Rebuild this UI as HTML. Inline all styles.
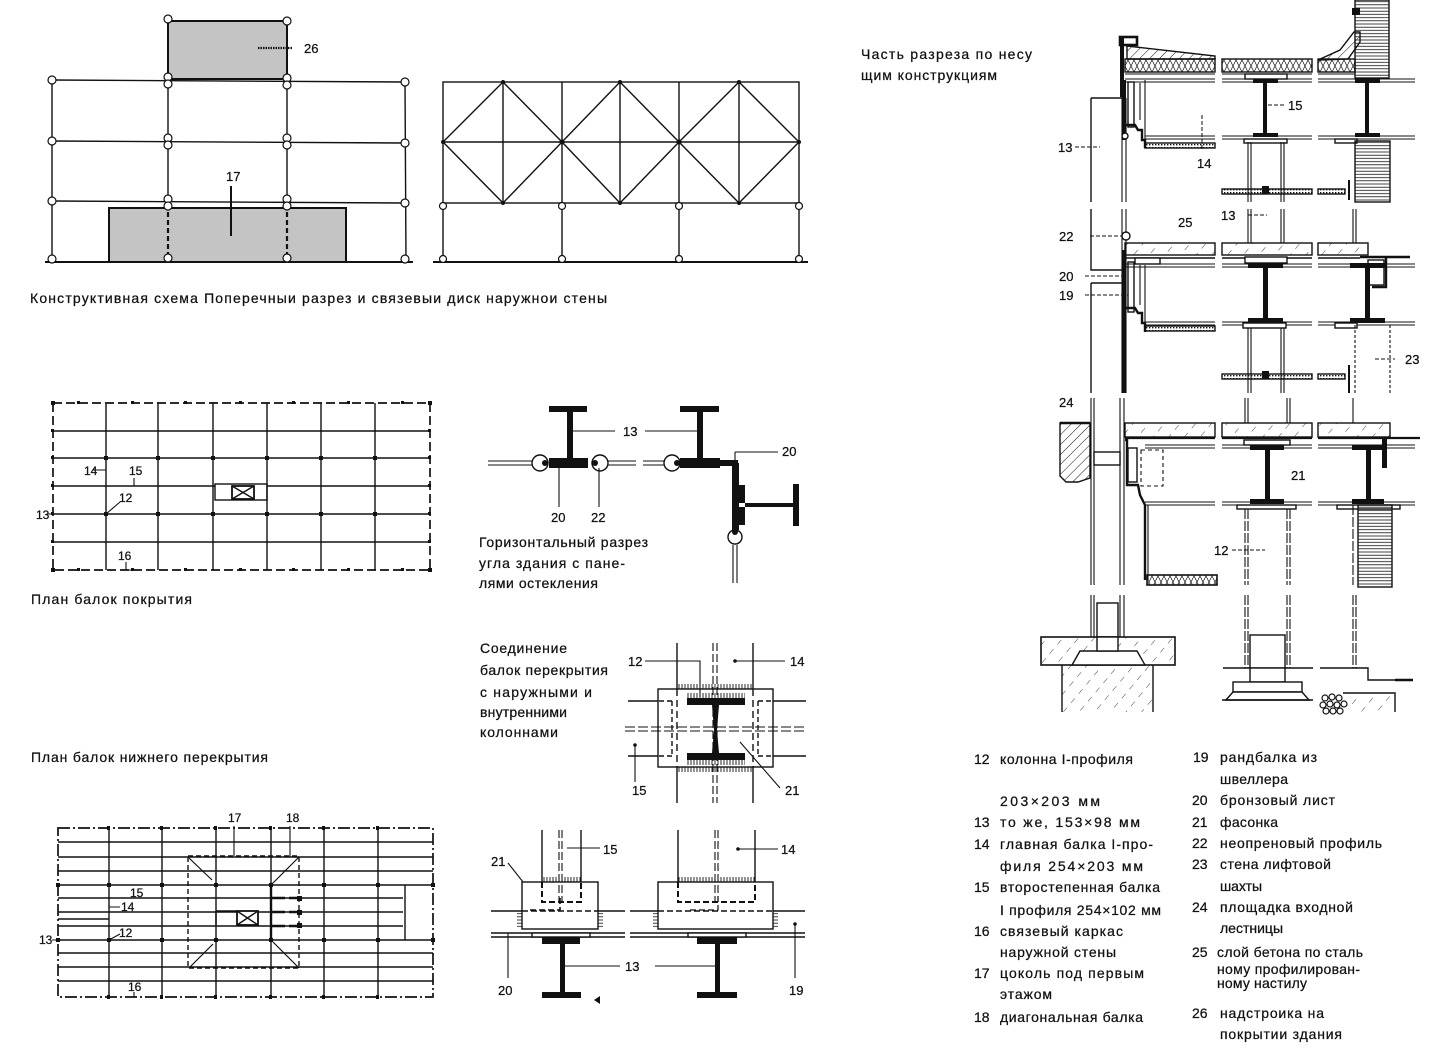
<!DOCTYPE html>
<html><head><meta charset="utf-8"><style>
html,body{margin:0;padding:0;background:#fff;}
svg{display:block;}
text{font-family:"Liberation Sans","DejaVu Sans",sans-serif;fill:#111;stroke:#111;stroke-width:0.25;}
</style></head><body>
<svg width="1437" height="1049" viewBox="0 0 1437 1049" xmlns="http://www.w3.org/2000/svg">
<defs>
<pattern id="hd" width="7" height="7" patternUnits="userSpaceOnUse" patternTransform="rotate(45)"><line x1="0" y1="0" x2="0" y2="7" stroke="#111" stroke-width="1"/></pattern>
<pattern id="hs" width="12" height="12" patternUnits="userSpaceOnUse" patternTransform="rotate(40)"><line x1="0" y1="0" x2="0" y2="6" stroke="#111" stroke-width="0.8"/></pattern>
<pattern id="hh" width="5" height="3.2" patternUnits="userSpaceOnUse"><line x1="0" y1="1.6" x2="5" y2="1.6" stroke="#111" stroke-width="0.8"/></pattern>
<pattern id="ins" width="6" height="12" patternUnits="userSpaceOnUse"><path d="M0 0 L6 12 M6 0 L0 12" stroke="#111" stroke-width="0.7"/></pattern>
<pattern id="dt" width="3" height="3" patternUnits="userSpaceOnUse"><rect width="1.4" height="1.4" fill="#111"/></pattern>
<pattern id="tk" width="3" height="5" patternUnits="userSpaceOnUse"><line x1="1" y1="0" x2="1" y2="5" stroke="#111" stroke-width="0.9"/></pattern>
</defs>

<g stroke="#111" stroke-width="1.4" fill="none">

<!-- ===== Scheme 1 ===== -->
<rect x="168" y="21" width="119" height="58" fill="#c4c4c4" stroke-width="2"/>
<rect x="109" y="208" width="237" height="54" fill="#c4c4c4" stroke-width="2"/>
<line x1="52" y1="80" x2="52" y2="262"/>
<line x1="405" y1="82" x2="406" y2="262"/>
<line x1="168" y1="79" x2="168" y2="208"/>
<line x1="287" y1="79" x2="287" y2="208"/>
<line x1="52" y1="80" x2="405" y2="82"/>
<line x1="52" y1="141" x2="405" y2="143"/>
<line x1="52" y1="201" x2="405" y2="203"/>
<line x1="45" y1="262" x2="413" y2="262" stroke-width="2"/>
<line x1="168" y1="212" x2="168" y2="256" stroke-width="2.2" stroke-dasharray="5 3"/>
<line x1="287" y1="212" x2="287" y2="256" stroke-width="2.2" stroke-dasharray="5 3"/>
<g fill="#fff" stroke-width="1.2">
<circle cx="52" cy="80" r="4"/><circle cx="52" cy="141" r="4"/><circle cx="52" cy="201" r="4"/><circle cx="52" cy="259" r="4"/>
<circle cx="405" cy="82" r="4"/><circle cx="405" cy="143" r="4"/><circle cx="405" cy="203" r="4"/><circle cx="405" cy="259" r="4"/>
<circle cx="168" cy="19" r="4"/><circle cx="287" cy="21" r="4"/>
<circle cx="168" cy="77" r="4"/><circle cx="168" cy="84" r="4"/><circle cx="168" cy="138" r="4"/><circle cx="168" cy="145" r="4"/><circle cx="168" cy="199" r="4"/><circle cx="168" cy="206" r="4"/><circle cx="168" cy="258" r="4"/>
<circle cx="287" cy="78" r="4"/><circle cx="287" cy="85" r="4"/><circle cx="287" cy="138" r="4"/><circle cx="287" cy="145" r="4"/><circle cx="287" cy="199" r="4"/><circle cx="287" cy="206" r="4"/><circle cx="287" cy="258" r="4"/>
</g>
<line x1="258" y1="48" x2="292" y2="48" stroke-width="2.2" stroke-dasharray="1.5 1"/>
<line x1="231" y1="186" x2="231" y2="236" stroke-width="2"/>

<!-- ===== Scheme 2 ===== -->
<rect x="443" y="82" width="356" height="121"/>
<line x1="443" y1="142" x2="799" y2="142"/>
<path d="M503 82V203 M562 82V203 M620 82V203 M679 82V203 M739 82V203"/>
<path d="M443 142 L503 82 L562 142 L503 203 Z M562 142 L620 82 L679 142 L620 203 Z M679 142 L739 82 L799 142 L739 203 Z"/>
<path d="M443 203V262 M562 203V262 M679 203V262 M799 203V262"/>
<line x1="433" y1="262" x2="808" y2="262" stroke-width="2"/>
<g fill="#111" stroke="none">
<circle cx="503" cy="82" r="2"/><circle cx="620" cy="82" r="2"/><circle cx="739" cy="82" r="2"/>
<circle cx="443" cy="142" r="2"/><circle cx="562" cy="142" r="2.5"/><circle cx="679" cy="142" r="2.5"/><circle cx="799" cy="142" r="2"/>
<circle cx="503" cy="203" r="2"/><circle cx="620" cy="203" r="2"/><circle cx="739" cy="203" r="2"/>
</g>
<g fill="#fff" stroke-width="1.2">
<circle cx="443" cy="206" r="3.5"/><circle cx="562" cy="206" r="3.5"/><circle cx="679" cy="206" r="3.5"/><circle cx="799" cy="206" r="3.5"/>
<circle cx="443" cy="259" r="3.5"/><circle cx="562" cy="259" r="3.5"/><circle cx="679" cy="259" r="3.5"/><circle cx="799" cy="259" r="3.5"/>
</g>

<!-- ===== Plan 1 (roof beams) ===== -->
<rect x="53" y="403" width="377" height="167" stroke-width="1.7" stroke-dasharray="9 4"/>
<path d="M106 403V570 M158 403V570 M213 403V570 M267 403V570 M321 403V570 M375 403V570"/>
<path d="M53 431H430 M53 458H430 M53 486H215 M267 486H430 M53 514H430 M53 542H430"/>
<rect x="215" y="484" width="52" height="16"/>
<rect x="232" y="486" width="22" height="13" stroke-width="1.8"/>
<path d="M232 486L254 499 M254 486L232 499"/>
<path d="M93 470H106 M134 478V486 M106 514L120 502 M47 514H53 M126 562V570H133" stroke-width="1.1"/>
<g fill="#111" stroke="none">
<rect x="104" y="456" width="4" height="4"/><rect x="156" y="456" width="4" height="4"/><rect x="211" y="456" width="4" height="4"/><rect x="265" y="456" width="4" height="4"/><rect x="319" y="456" width="4" height="4"/><rect x="373" y="456" width="4" height="4"/>
<rect x="104" y="512" width="4" height="4"/><rect x="156" y="512" width="4" height="4"/><rect x="211" y="512" width="4" height="4"/><rect x="265" y="512" width="4" height="4"/><rect x="319" y="512" width="4" height="4"/><rect x="373" y="512" width="4" height="4"/>
<rect x="51" y="401" width="4" height="4"/><rect x="428" y="401" width="4" height="4"/><rect x="51" y="568" width="4" height="4"/><rect x="428" y="568" width="4" height="4"/>
<rect x="51" y="429" width="3" height="3"/><rect x="51" y="456" width="3" height="3"/><rect x="51" y="484" width="3" height="3"/><rect x="51" y="512" width="3" height="3"/><rect x="51" y="540" width="3" height="3"/>
<rect x="428" y="429" width="3" height="3"/><rect x="428" y="456" width="3" height="3"/><rect x="428" y="484" width="3" height="3"/><rect x="428" y="512" width="3" height="3"/><rect x="428" y="540" width="3" height="3"/>
<rect x="77" y="401" width="3" height="3"/><rect x="131" y="401" width="3" height="3"/><rect x="184" y="401" width="3" height="3"/><rect x="239" y="401" width="3" height="3"/><rect x="292" y="401" width="3" height="3"/><rect x="347" y="401" width="3" height="3"/><rect x="401" y="401" width="3" height="3"/>
<rect x="77" y="568" width="3" height="3"/><rect x="131" y="568" width="3" height="3"/><rect x="184" y="568" width="3" height="3"/><rect x="239" y="568" width="3" height="3"/><rect x="292" y="568" width="3" height="3"/><rect x="347" y="568" width="3" height="3"/><rect x="401" y="568" width="3" height="3"/>
</g>

<!-- ===== Plan 2 (lower floor beams) ===== -->
<rect x="58" y="828" width="375" height="169" stroke-width="1.7" stroke-dasharray="12 3 2 3"/>
<path d="M109 828V997 M162 828V997 M216 828V997 M271 828V997 M324 828V997 M378 828V997"/>
<path d="M58 842H433 M58 857H433 M58 871H433 M58 885H433 M58 898H403 M58 912H403 M58 926H403 M58 940H433 M58 953H433 M58 967H433 M58 981H433 M405 885V940"/>
<path d="M58 919H109" />
<rect x="188" y="856" width="111" height="112" stroke-width="1.4" stroke-dasharray="5 3"/>
<path d="M189 858L212 880 M299 857L272 884 M189 968L213 944 M299 968L273 942" stroke-width="1.2"/>
<path d="M271 885V940" stroke-width="2.4"/>
<path d="M271 898H300 M271 912H300 M271 926H300" stroke-width="2.6" stroke-dasharray="14 4"/>
<rect x="237" y="911" width="21" height="14" fill="#fff" stroke-width="1.8"/>
<path d="M237 911L258 925 M258 911L237 925"/>
<path d="M216 911H237 M216 911V925"/>
<path d="M234 826V856 M290 826V857 M109 907H120 M109 940L120 934 M52 940H58 M134 992V997" stroke-width="1.1"/>
<g fill="#111" stroke="none">
<rect x="107" y="883" width="4" height="4"/><rect x="160" y="883" width="4" height="4"/><rect x="214" y="883" width="4" height="4"/><rect x="269" y="883" width="4" height="4"/><rect x="322" y="883" width="4" height="4"/><rect x="376" y="883" width="4" height="4"/>
<rect x="107" y="938" width="4" height="4"/><rect x="160" y="938" width="4" height="4"/><rect x="214" y="938" width="4" height="4"/><rect x="269" y="938" width="4" height="4"/><rect x="322" y="938" width="4" height="4"/><rect x="376" y="938" width="4" height="4"/>
<rect x="56" y="883" width="4" height="4"/><rect x="431" y="883" width="4" height="4"/><rect x="56" y="938" width="4" height="4"/><rect x="431" y="938" width="4" height="4"/>
<rect x="107" y="826" width="3" height="4"/><rect x="160" y="826" width="3" height="4"/><rect x="214" y="826" width="3" height="4"/><rect x="269" y="826" width="3" height="4"/><rect x="322" y="826" width="3" height="4"/><rect x="376" y="826" width="3" height="4"/>
<rect x="107" y="995" width="3" height="4"/><rect x="160" y="995" width="3" height="4"/><rect x="214" y="995" width="3" height="4"/><rect x="269" y="995" width="3" height="4"/><rect x="322" y="995" width="3" height="4"/><rect x="376" y="995" width="3" height="4"/>
<rect x="297" y="896" width="5" height="5"/><rect x="297" y="910" width="5" height="5"/><rect x="297" y="923" width="5" height="5"/>
</g>

<!-- ===== Horizontal section of corner ===== -->
<g fill="#111" stroke="none">
<rect x="549" y="406" width="38" height="6"/>
<rect x="567" y="411" width="6" height="48"/>
<rect x="549" y="458" width="39" height="10"/>
<rect x="680" y="406" width="39" height="6"/>
<rect x="697" y="411" width="6" height="48"/>
<rect x="680" y="458" width="40" height="10"/>
<rect x="718" y="460" width="20" height="6"/>
<rect x="732" y="463" width="7" height="67"/>
<rect x="735" y="485" width="10" height="18"/>
<rect x="735" y="507" width="10" height="18"/>
<rect x="745" y="503" width="50" height="4"/>
<rect x="793" y="484" width="6" height="42"/>
</g>
<path d="M488 461H533 M488 465H533 M608 461H636 M608 465H636 M643 461H664 M643 465H664 M733 545V583 M737 545V583" stroke-width="1.1"/>
<g fill="#fff" stroke-width="1.4">
<circle cx="540" cy="463" r="8"/><circle cx="600" cy="463" r="8"/><circle cx="672" cy="463" r="8"/><circle cx="735" cy="537" r="7"/>
</g>
<g fill="#111" stroke="none"><circle cx="545" cy="463" r="3"/><circle cx="595" cy="463" r="3"/><circle cx="677" cy="463" r="3"/><circle cx="735" cy="532" r="3"/></g>
<path d="M573 431H615 M645 431H700 M735 452H778 M735 452V460 M559 468V507 M599 468V507" stroke-width="1.1"/>

<!-- ===== Connection detail ===== -->
<rect x="658" y="689" width="115" height="78"/>
<path d="M677 643V689 M677 767V803 M753 643V689 M753 767V803"/>
<path d="M677 689V767 M753 689V767" stroke-dasharray="7 4"/>
<path d="M713 643V803 M717 643V803" stroke-width="1.1" stroke-dasharray="8 3"/>
<path d="M625 727H806 M625 731H806" stroke-width="1.1" stroke-dasharray="10 3"/>
<path d="M628 701H658 M628 756H658 M773 701H806 M773 756H806"/>
<path d="M672 701H658 M672 701V756 M672 756H658 M758 701H773 M758 701V756 M758 756H773" stroke-dasharray="5 3"/>
<g fill="#111" stroke="none">
<rect x="687" y="698" width="58" height="7"/>
<rect x="687" y="753" width="58" height="7"/>
<polygon points="712,705 719,705 717,730 719,753 712,753 714,730"/>
</g>
<rect x="687" y="693" width="58" height="5" fill="url(#tk)" stroke="none"/>
<rect x="687" y="760" width="58" height="5" fill="url(#tk)" stroke="none"/>
<rect x="677" y="684" width="76" height="5" fill="url(#tk)" stroke="none"/>
<rect x="677" y="767" width="76" height="5" fill="url(#tk)" stroke="none"/>
<path d="M645 661H700V697 M735 661H785 M635 745V782 M740 742L780 788" stroke-width="1.1"/>
<circle cx="735" cy="661" r="1.8" fill="#111" stroke="none"/>
<circle cx="635" cy="745" r="1.8" fill="#111" stroke="none"/>

<!-- ===== Bottom details ===== -->
<rect x="522" y="882" width="76" height="47"/>
<path d="M542 830V882 M581 830V882"/>
<path d="M559 830V902 M562 830V902" stroke-width="1.1" stroke-dasharray="8 3"/>
<path d="M542 882V902H581V882" stroke-width="2" stroke-dasharray="6 3"/>
<path d="M530 910H560V895" stroke-width="1.6" stroke-dasharray="6 3"/>
<path d="M491 911H522 M598 911H625 M491 933H625 M491 937H625"/>
<path d="M522 911H598" stroke-dasharray="6 3"/>
<rect x="532" y="933" width="58" height="4" fill="#fff"/>
<g fill="#111" stroke="none">
<rect x="542" y="937" width="38" height="7"/>
<rect x="560" y="943" width="5" height="50"/>
<rect x="542" y="992" width="39" height="6"/>
<polygon points="594,1000 600,996 600,1004"/>
</g>
<rect x="542" y="877" width="39" height="5" fill="url(#tk)" stroke="none"/>
<rect x="517" y="913" width="5" height="16" fill="url(#hh)" stroke="none"/>
<rect x="598" y="913" width="5" height="16" fill="url(#hh)" stroke="none"/>
<path d="M567 848H600 M508 863L523 882 M508 933V978 M565 966H620 M655 966H715" stroke-width="1.1"/>

<rect x="658" y="882" width="115" height="47"/>
<path d="M678 830V882 M755 830V882"/>
<path d="M715 830V902 M718 830V902" stroke-width="1.1" stroke-dasharray="8 3"/>
<path d="M678 882V902H755V882" stroke-width="2" stroke-dasharray="6 3"/>
<path d="M690 910H718V895" stroke-width="1.2" stroke-dasharray="6 3"/>
<path d="M630 911H658 M773 911H805 M630 933H805 M630 937H805"/>
<path d="M658 911H773" stroke-dasharray="6 3"/>
<rect x="688" y="933" width="58" height="4" fill="#fff"/>
<g fill="#111" stroke="none">
<rect x="697" y="937" width="40" height="7"/>
<rect x="715" y="943" width="5" height="50"/>
<rect x="697" y="992" width="40" height="6"/>
</g>
<rect x="678" y="877" width="77" height="5" fill="url(#tk)" stroke="none"/>
<rect x="653" y="913" width="5" height="16" fill="url(#hh)" stroke="none"/>
<rect x="773" y="913" width="5" height="16" fill="url(#hh)" stroke="none"/>
<path d="M738 849H778 M795 924V978" stroke-width="1.1"/>
<circle cx="738" cy="849" r="1.8" fill="#111" stroke="none"/>
<circle cx="795" cy="924" r="1.8" fill="#111" stroke="none"/>

<!-- ===== Vertical section (right) ===== -->
<path d="M1091 98H1122 M1091 98V202 M1091 209V270H1122 M1091 283H1122 M1091 283V393"/>
<path d="M1122 40V202 M1126 98V202 M1122 209V393 M1126 209V393" stroke-width="1.1"/>
<path d="M1091 398V585 M1094 398V585 M1120 398V585 M1124 398V585 M1091 595V637 M1094 595V637 M1120 595V637 M1124 595V637" stroke-width="1.1"/>
<rect x="1094" y="452" width="26" height="13" fill="#fff"/>

<!-- roof -->
<rect x="1120" y="37" width="17" height="8" stroke-width="2.6"/>
<rect x="1120" y="37" width="4" height="60" fill="#111" stroke="none"/>
<polygon points="1127,46 1215,56 1215,59 1127,59" fill="url(#hd)"/>
<rect x="1125" y="59" width="90" height="13" fill="url(#ins)"/>
<rect x="1222" y="59" width="90" height="13" fill="url(#ins)"/>
<rect x="1318" y="59" width="37" height="13" fill="url(#ins)"/>
<polygon points="1318,60 1340,50 1354,32 1360,32 1360,42 1348,59" fill="url(#hd)"/>
<rect x="1355" y="0" width="34" height="78" fill="url(#hh)"/>
<rect x="1352" y="8" width="8" height="7" fill="#111" stroke="none"/>
<path d="M1125 74H1215 M1222 74H1312 M1318 74H1355 M1125 79H1215 M1222 79H1312 M1318 79H1415 M1125 82H1215 M1222 82H1312 M1318 82H1415" stroke-width="1.1"/>
<rect x="1245" y="74" width="42" height="5" fill="#fff"/>
<g fill="#111" stroke="none">
<rect x="1253" y="79" width="25" height="4"/><rect x="1263" y="83" width="4" height="50"/><rect x="1253" y="133" width="25" height="4"/>
<rect x="1355" y="79" width="25" height="4"/><rect x="1365" y="83" width="4" height="50"/><rect x="1355" y="133" width="25" height="4"/>
<rect x="1122" y="80" width="4" height="60"/>
</g>
<path d="M1145 136H1215 M1222 136H1312 M1318 136H1415 M1145 139H1215 M1222 139H1312 M1318 139H1415" stroke-width="1.1"/>
<rect x="1244" y="139" width="43" height="4" fill="#fff"/>
<rect x="1335" y="139" width="22" height="4" fill="#fff"/>
<rect x="1128" y="82" width="6" height="45"/>
<path d="M1140 83V120 M1145 80V140" stroke-width="1.1"/>
<path d="M1126 125H1135L1138 130H1142V140H1145V148" stroke-width="2.4"/>
<circle cx="1125" cy="136" r="3" fill="#fff"/>
<rect x="1145" y="143" width="70" height="5" fill="url(#dt)"/>
<path d="M1248 142V202 M1251 142V202 M1281 142V202 M1284 142V202" stroke-width="1.1"/>
<rect x="1222" y="189" width="90" height="5" fill="url(#dt)"/>
<rect x="1318" y="189" width="27" height="5" fill="url(#dt)"/>
<rect x="1262" y="186" width="7" height="8" fill="#111" stroke="none"/>
<path d="M1349 180V200" stroke-width="2"/>
<rect x="1355" y="141" width="35" height="61" fill="url(#hh)"/>

<!-- floor 2 -->
<rect x="1125" y="243" width="90" height="12" fill="url(#hs)"/>
<rect x="1222" y="243" width="90" height="12" fill="url(#hs)"/>
<rect x="1318" y="243" width="50" height="12" fill="url(#hs)"/>
<path d="M1125 258H1215 M1222 258H1312 M1318 258H1360" stroke-width="1.4"/>
<path d="M1360 257H1410" stroke-width="2.6"/>
<path d="M1125 264H1215 M1222 264H1312 M1318 264H1415 M1125 267H1215 M1222 267H1312 M1318 267H1415" stroke-width="1.1"/>
<rect x="1245" y="257" width="42" height="6" fill="#fff"/>
<rect x="1135" y="258" width="25" height="6" fill="#fff"/>
<g fill="#111" stroke="none">
<rect x="1248" y="263" width="35" height="5"/><rect x="1263" y="268" width="5" height="50"/><rect x="1248" y="318" width="35" height="5"/>
<rect x="1350" y="263" width="35" height="5"/><rect x="1365" y="268" width="5" height="50"/><rect x="1350" y="318" width="35" height="5"/>
<rect x="1122" y="250" width="4" height="143"/>
</g>
<path d="M1372 287H1386V258" stroke-width="2.4"/>
<rect x="1368" y="260" width="16" height="25"/>
<path d="M1145 322H1215 M1222 322H1312 M1318 322H1415 M1145 325H1215 M1222 325H1312 M1318 325H1415" stroke-width="1.1"/>
<rect x="1243" y="323" width="43" height="5" fill="#fff"/>
<rect x="1335" y="323" width="22" height="5" fill="#fff"/>
<rect x="1128" y="262" width="6" height="50"/>
<path d="M1140 265V305 M1145 265V325" stroke-width="1.1"/>
<path d="M1126 308H1135L1138 313H1142V323H1145V332" stroke-width="2.4"/>
<circle cx="1126" cy="236" r="4" fill="#fff"/>
<rect x="1145" y="326" width="70" height="5" fill="url(#dt)"/>
<path d="M1248 209V243 M1251 209V243 M1281 209V243 M1284 209V243 M1248 328V393 M1251 328V393 M1281 328V393 M1284 328V393" stroke-width="1.1"/>
<path d="M1353 209V243 M1356 209V243" stroke-width="1.1"/>
<rect x="1222" y="374" width="90" height="5" fill="url(#dt)"/>
<rect x="1318" y="374" width="27" height="5" fill="url(#dt)"/>
<rect x="1262" y="371" width="7" height="8" fill="#111" stroke="none"/>
<path d="M1349 365V393" stroke-width="2"/>
<path d="M1355 325V393 M1390 325V393" stroke-width="1.1" stroke-dasharray="3 2"/>

<!-- floor 1 -->
<polygon points="1060,423 1090,423 1090,478 1078,482 1066,482 1060,476" fill="url(#hd)"/>
<path d="M1060 423H1090" stroke-width="2.6"/>
<rect x="1125" y="423" width="90" height="14" fill="url(#hs)"/>
<rect x="1222" y="423" width="90" height="14" fill="url(#hs)"/>
<rect x="1318" y="423" width="72" height="14" fill="url(#hs)"/>
<path d="M1125 438H1215 M1222 438H1312 M1318 438H1420" stroke-width="2.2"/>
<path d="M1145 445H1215 M1222 445H1312 M1318 445H1415 M1145 448H1215 M1222 448H1312 M1318 448H1415" stroke-width="1.1"/>
<rect x="1244" y="440" width="46" height="5" fill="#fff"/>
<g fill="#111" stroke="none">
<rect x="1250" y="445" width="34" height="5"/><rect x="1265" y="450" width="5" height="50"/><rect x="1250" y="499" width="34" height="5"/>
<rect x="1352" y="445" width="32" height="5"/><rect x="1366" y="450" width="5" height="50"/><rect x="1352" y="499" width="32" height="5"/>
<rect x="1382" y="438" width="5" height="30"/>
</g>
<path d="M1145 502H1215 M1222 502H1312 M1318 502H1415 M1145 505H1215 M1222 505H1312 M1318 505H1415" stroke-width="1.1"/>
<rect x="1237" y="505" width="59" height="4" fill="#fff"/>
<rect x="1337" y="505" width="63" height="4" fill="#fff"/>
<rect x="1128" y="448" width="9" height="34"/>
<path d="M1125 440H1127V485H1138L1140 495L1145 505V580" stroke-width="2.4"/>
<path d="M1148 505V580" stroke-width="1.1"/>
<rect x="1141" y="450" width="22" height="36" stroke-dasharray="4 3" stroke-width="1.1"/>
<rect x="1147" y="575" width="70" height="10" fill="url(#ins)" stroke-width="1.6"/>
<path d="M1245 509V585 M1248 509V585 M1287 509V585 M1290 509V585 M1245 595V668 M1248 595V668 M1287 595V668 M1290 595V668" stroke-width="1.1" stroke-dasharray="10 2"/>
<path d="M1245 398V423 M1248 398V423 M1287 398V423 M1290 398V423 M1353 398V423" stroke-width="1.1"/>
<path d="M1353 505V585 M1353 595V668 M1356 595V668" stroke-width="1.1" stroke-dasharray="10 2"/>
<rect x="1358" y="505" width="34" height="82" fill="url(#hh)"/>

<!-- foundations -->
<rect x="1097" y="603" width="21" height="34" fill="#fff"/>
<rect x="1041" y="637" width="134" height="28" fill="url(#hs)" stroke-width="1.6"/>
<polygon points="1072,665 1080,651 1137,651 1145,665" fill="#fff"/>
<rect x="1097" y="637" width="21" height="14" fill="#fff"/>
<rect x="1062" y="665" width="91" height="47" fill="url(#hs)" stroke="none"/>
<path d="M1062 665V712 M1153 665V712" stroke-width="1.4"/>
<path d="M1223 668H1313 M1320 668H1368V680H1405" stroke-width="1.4"/>
<path d="M1395 680H1413" stroke-width="2.6"/>
<rect x="1250" y="635" width="35" height="33" fill="#fff"/>
<rect x="1250" y="668" width="35" height="14" fill="#fff"/>
<rect x="1233" y="682" width="69" height="10" fill="#fff"/>
<polygon points="1226,700 1233,692 1302,692 1309,700" fill="#fff"/>
<path d="M1222 700H1313" stroke-width="1.4"/>
<path d="M1343 693H1395V712" stroke-width="1.4"/>
<rect x="1348" y="695" width="45" height="17" fill="url(#hs)" stroke="none"/>
<g stroke-width="1.2" fill="#fff">
<circle cx="1325" cy="698" r="3"/><circle cx="1332" cy="697" r="3"/><circle cx="1339" cy="698" r="3"/><circle cx="1323" cy="705" r="3"/><circle cx="1330" cy="704" r="3"/><circle cx="1337" cy="705" r="3"/><circle cx="1344" cy="704" r="3"/><circle cx="1326" cy="711" r="3"/><circle cx="1333" cy="711" r="3"/><circle cx="1340" cy="711" r="3"/>
</g>

<path d="M1075 147H1100 M1202 115V150 M1268 105H1285 M1248 215H1267 M1090 236H1122 M1085 276H1122 M1085 295H1128 M1375 359H1395 M1232 550H1265" stroke-width="1" stroke-dasharray="4 2"/>
</g>

<!-- ===== TEXT ===== -->
<g font-size="13">
<text x="304" y="53">26</text>
<text x="226" y="181">17</text>
<text x="623" y="436">13</text>
<text x="782" y="456">20</text>
<text x="551" y="522">20</text>
<text x="591" y="522">22</text>
<text x="628" y="666">12</text>
<text x="790" y="666">14</text>
<text x="632" y="795">15</text>
<text x="785" y="795">21</text>
<text x="603" y="854">15</text>
<text x="491" y="866">21</text>
<text x="498" y="995">20</text>
<text x="625" y="971">13</text>
<text x="781" y="854">14</text>
<text x="789" y="995">19</text>

<text x="84" y="475" font-size="12">14</text>
<text x="129" y="475" font-size="12">15</text>
<text x="119" y="502" font-size="12">12</text>
<text x="36" y="519" font-size="12">13</text>
<text x="118" y="560" font-size="12">16</text>

<text x="228" y="822" font-size="12">17</text>
<text x="286" y="822" font-size="12">18</text>
<text x="130" y="897" font-size="12">15</text>
<text x="121" y="911" font-size="12">14</text>
<text x="119" y="937" font-size="12">12</text>
<text x="39" y="944" font-size="12">13</text>
<text x="128" y="991" font-size="12">16</text>

<text x="1058" y="152">13</text>
<text x="1197" y="168">14</text>
<text x="1288" y="110">15</text>
<text x="1178" y="227">25</text>
<text x="1221" y="220">13</text>
<text x="1059" y="241">22</text>
<text x="1059" y="281">20</text>
<text x="1059" y="300">19</text>
<text x="1405" y="364">23</text>
<text x="1059" y="407">24</text>
<text x="1291" y="480">21</text>
<text x="1214" y="555">12</text>
</g>

<g font-size="14">
<text x="30" y="303" textLength="577" lengthAdjust="spacing">Конструктивная схема  Поперечныи разрез и связевыи диск наружнои стены</text>
<text x="31" y="604" textLength="161" lengthAdjust="spacing">План балок покрытия</text>
<text x="31" y="762" textLength="237" lengthAdjust="spacing">План балок нижнего перекрытия</text>
<text x="479" y="547" textLength="169" lengthAdjust="spacing">Горизонтальный разрез</text>
<text x="479" y="568" textLength="146" lengthAdjust="spacing">угла здания с пане-</text>
<text x="479" y="588" textLength="119" lengthAdjust="spacing">лями остекления</text>
<text x="480" y="653" textLength="87" lengthAdjust="spacing">Соединение</text>
<text x="480" y="675" textLength="128" lengthAdjust="spacing">балок перекрытия</text>
<text x="480" y="697" textLength="112" lengthAdjust="spacing">с наружными и</text>
<text x="480" y="717" textLength="87" lengthAdjust="spacing">внутренними</text>
<text x="480" y="737" textLength="78" lengthAdjust="spacing">колоннами</text>
<text x="861" y="59" textLength="171" lengthAdjust="spacing">Часть разреза по несу</text>
<text x="861" y="80" textLength="136" lengthAdjust="spacing">щим конструкциям</text>
</g>

<g font-size="14">
<text x="974" y="764">12</text>
<text x="1000" y="764" textLength="133" lengthAdjust="spacing">колонна I-профиля</text>
<text x="1000" y="806" textLength="100" lengthAdjust="spacing">203×203 мм</text>
<text x="974" y="827">13</text>
<text x="1000" y="827" textLength="140" lengthAdjust="spacing">то же, 153×98 мм</text>
<text x="974" y="849">14</text>
<text x="1000" y="849" textLength="153" lengthAdjust="spacing">главная балка I-про-</text>
<text x="1000" y="871" textLength="143" lengthAdjust="spacing">филя 254×203 мм</text>
<text x="974" y="892">15</text>
<text x="1000" y="892" textLength="160" lengthAdjust="spacing">второстепенная балка</text>
<text x="1000" y="915" textLength="161" lengthAdjust="spacing">I профиля 254×102 мм</text>
<text x="974" y="936">16</text>
<text x="1000" y="936" textLength="123" lengthAdjust="spacing">связевый каркас</text>
<text x="1000" y="957" textLength="116" lengthAdjust="spacing">наружной стены</text>
<text x="974" y="978">17</text>
<text x="1000" y="978" textLength="144" lengthAdjust="spacing">цоколь под первым</text>
<text x="1000" y="999" textLength="52" lengthAdjust="spacing">этажом</text>
<text x="974" y="1022">18</text>
<text x="1000" y="1022" textLength="143" lengthAdjust="spacing">диагональная балка</text>

<text x="1193" y="762">19</text>
<text x="1220" y="762" textLength="97" lengthAdjust="spacing">рандбалка из</text>
<text x="1220" y="784" textLength="68" lengthAdjust="spacing">швеллера</text>
<text x="1192" y="805">20</text>
<text x="1220" y="805" textLength="115" lengthAdjust="spacing">бронзовый лист</text>
<text x="1192" y="827">21</text>
<text x="1220" y="827" textLength="58" lengthAdjust="spacing">фасонка</text>
<text x="1192" y="848">22</text>
<text x="1220" y="848" textLength="162" lengthAdjust="spacing">неопреновый профиль</text>
<text x="1192" y="869">23</text>
<text x="1220" y="869" textLength="111" lengthAdjust="spacing">стена лифтовой</text>
<text x="1220" y="891" textLength="42" lengthAdjust="spacing">шахты</text>
<text x="1192" y="912">24</text>
<text x="1220" y="912" textLength="133" lengthAdjust="spacing">площадка входной</text>
<text x="1220" y="933" textLength="63" lengthAdjust="spacing">лестницы</text>
<text x="1192" y="957">25</text>
<text x="1217" y="957" textLength="146" lengthAdjust="spacing">слой бетона по сталь</text>
<text x="1217" y="974" textLength="143" lengthAdjust="spacing">ному профилирован-</text>
<text x="1217" y="988" textLength="90" lengthAdjust="spacing">ному настилу</text>
<text x="1192" y="1018">26</text>
<text x="1220" y="1018" textLength="104" lengthAdjust="spacing">надстроика на</text>
<text x="1220" y="1039" textLength="122" lengthAdjust="spacing">покрытии здания</text>
</g>
</svg>
</body></html>
